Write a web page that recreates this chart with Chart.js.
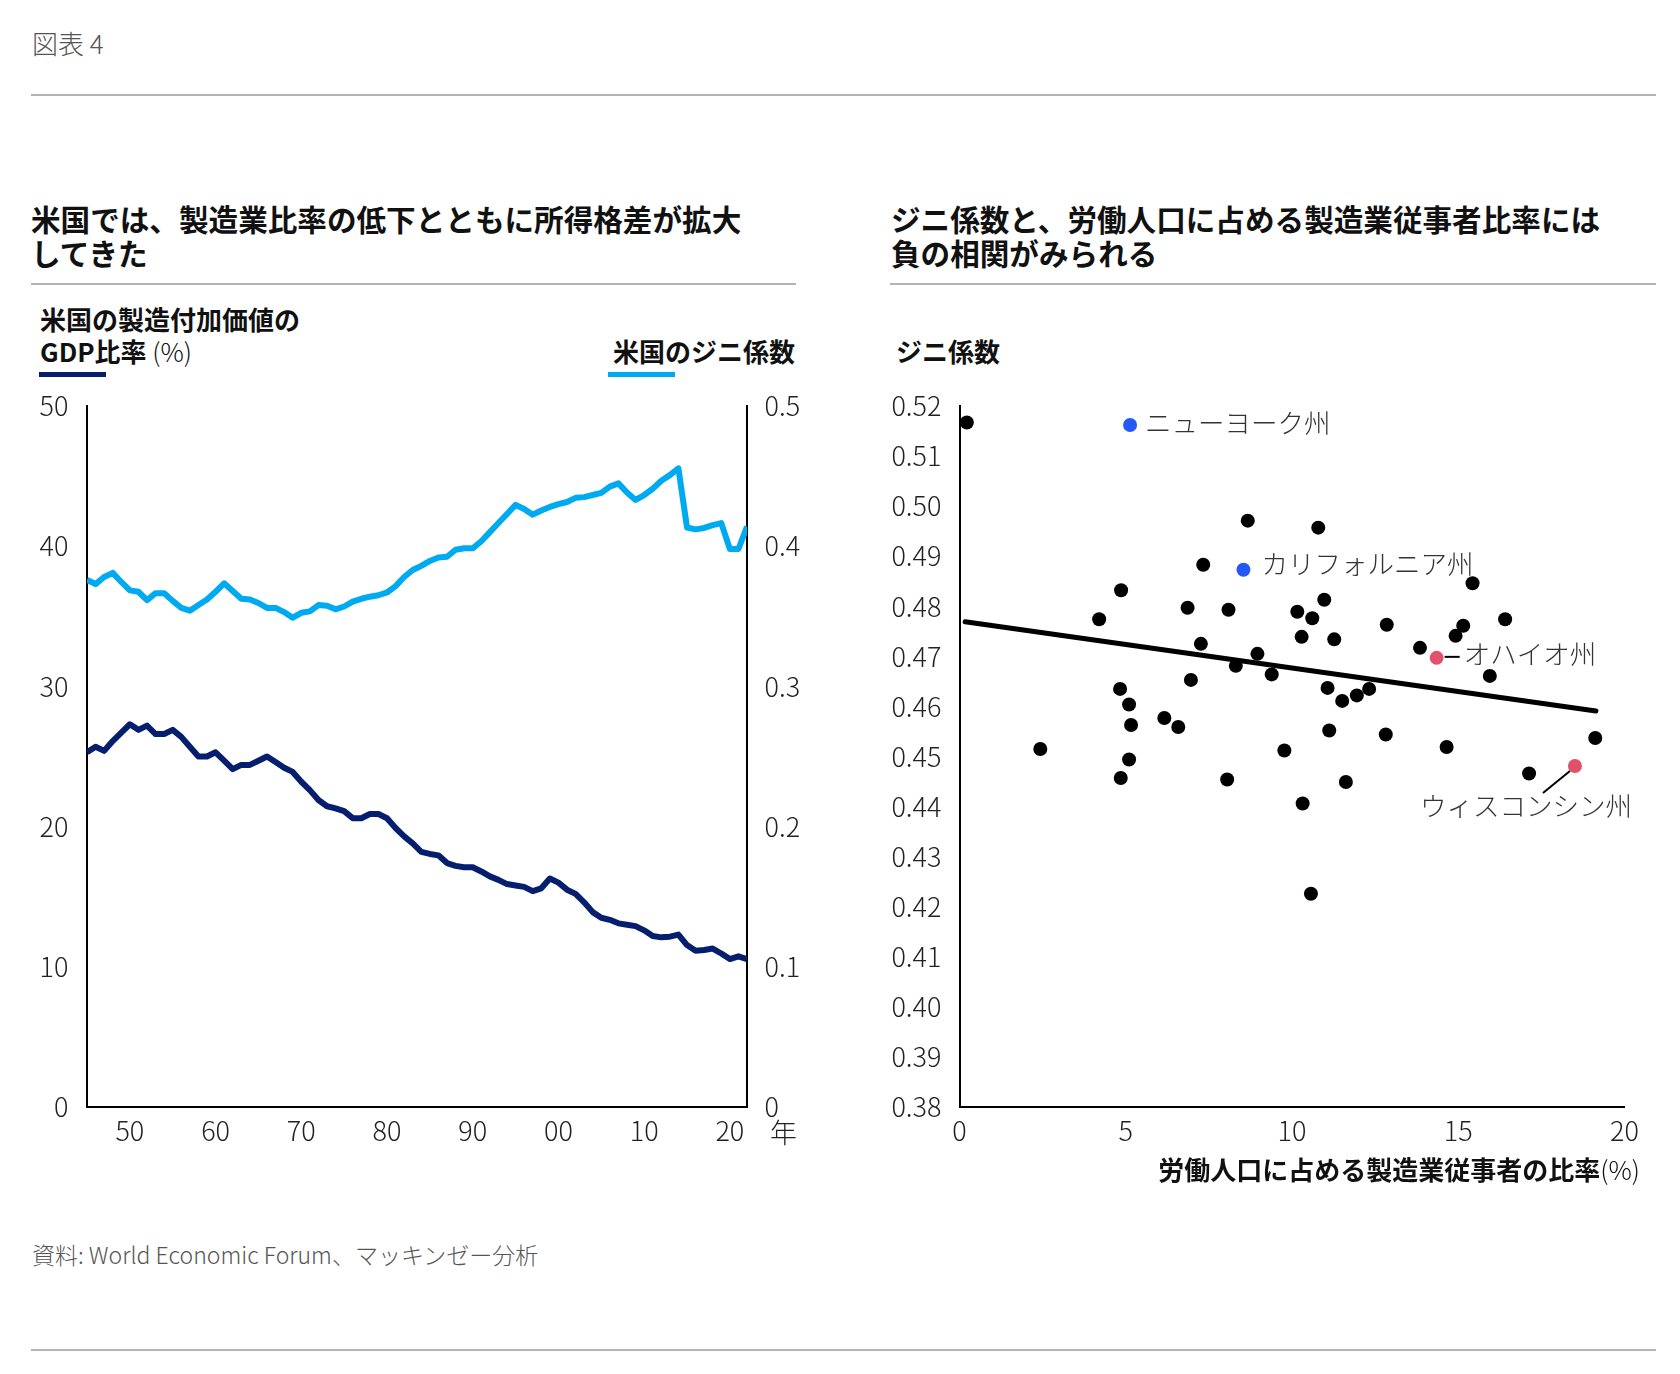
<!DOCTYPE html>
<html lang="ja">
<head>
<meta charset="utf-8">
<title>図表 4</title>
<script src="https://cdn.jsdelivr.net/npm/chart.js@4.4.1/dist/chart.umd.min.js"></script>
<style>
  html, body { margin: 0; padding: 0; background: #fff; }
  body { width: 1680px; height: 1374px; position: relative; overflow: hidden;
         font-family: "Noto Sans CJK JP", "Noto Sans", sans-serif; color: #111; }
  .t { position: absolute; white-space: nowrap; }
  .rule { position: absolute; height: 2px; background: #b4b4b4; }
  .title { font-size: 29.6px; font-weight: 700; line-height: 34px; }
  .lab { font-size: 26px; font-weight: 700; line-height: 32px; }
  .light { font-weight: 300; }
  canvas { position: absolute; }
</style>
</head>
<body>
<div class="t light" style="left:32px;top:27px;font-size:26px;line-height:32px;color:#555;">図表 4</div>
<div class="rule" style="left:31px;top:94px;width:1625px;"></div>

<div class="t title" style="left:31px;top:202px;">米国では、製造業比率の低下とともに所得格差が拡大<br>してきた</div>
<div class="t title" style="left:891px;top:202px;">ジニ係数と、労働人口に占める製造業従事者比率には<br>負の相関がみられる</div>
<div class="rule" style="left:31px;top:283px;width:765px;"></div>
<div class="rule" style="left:890px;top:283px;width:766px;"></div>

<div class="t lab" style="left:40px;top:303px;">米国の製造付加価値の<br>GDP比率<span class="light"> (%)</span></div>
<div style="position:absolute;left:39px;top:372px;width:67px;height:5px;background:#061e6e;"></div>
<div class="t lab" style="left:613px;top:335px;">米国のジニ係数</div>
<div style="position:absolute;left:608px;top:372px;width:67px;height:5px;background:#00aaf0;"></div>
<div class="t lab" style="left:896px;top:335px;">ジニ係数</div>

<canvas id="leftChart" width="840" height="800" style="left:0;top:380px;"></canvas>
<canvas id="rightChart" width="800" height="800" style="left:880px;top:380px;"></canvas>

<div class="t light" style="left:770px;top:1115px;font-size:27px;line-height:34px;color:#222;">年</div>
<div class="t lab" style="right:40px;top:1153px;">労働人口に占める製造業従事者の比率<span class="light">(%)</span></div>

<div class="t light" style="left:32px;top:1240px;font-size:23px;line-height:28px;color:#555;">資料: World Economic Forum、マッキンゼー分析</div>
<div class="rule" style="left:31px;top:1349px;width:1625px;"></div>

<script>
// ---- left chart data (1945-2022) ----
const YEARS = [1945, 1946, 1947, 1948, 1949, 1950, 1951, 1952, 1953, 1954,
  1955, 1956, 1957, 1958, 1959, 1960, 1961, 1962, 1963, 1964,
  1965, 1966, 1967, 1968, 1969, 1970, 1971, 1972, 1973, 1974,
  1975, 1976, 1977, 1978, 1979, 1980, 1981, 1982, 1983, 1984,
  1985, 1986, 1987, 1988, 1989, 1990, 1991, 1992, 1993, 1994,
  1995, 1996, 1997, 1998, 1999, 2000, 2001, 2002, 2003, 2004,
  2005, 2006, 2007, 2008, 2009, 2010, 2011, 2012, 2013, 2014,
  2015, 2016, 2017, 2018, 2019, 2020, 2021, 2022];

// 製造付加価値のGDP比率 (%)
const GDP_SHARE = [25.3, 25.7, 25.4, 26.1, 26.7, 27.3, 26.9, 27.2, 26.6, 26.6,
  26.9, 26.4, 25.7, 25.0, 25.0, 25.3, 24.7, 24.1, 24.4, 24.4,
  24.7, 25.0, 24.6, 24.2, 23.9, 23.2, 22.6, 21.9, 21.45, 21.3,
  21.1, 20.6, 20.6, 20.9, 20.9, 20.6, 19.9, 19.3, 18.8, 18.2,
  18.05, 17.95, 17.4, 17.2, 17.1, 17.1, 16.8, 16.45, 16.2, 15.9,
  15.8, 15.7, 15.4, 15.6, 16.3, 16.0, 15.5, 15.2, 14.6, 13.9,
  13.5, 13.35, 13.1, 13.0, 12.9, 12.6, 12.2, 12.1, 12.15, 12.3,
  11.55, 11.15, 11.2, 11.3, 10.95, 10.55, 10.75, 10.55];

// 米国のジニ係数
const GINI_US = [0.376, 0.373, 0.378, 0.381, 0.3745, 0.3685, 0.3675, 0.3615, 0.3665, 0.3665,
  0.361, 0.356, 0.354, 0.358, 0.362, 0.3675, 0.3735, 0.368, 0.3625, 0.362,
  0.3595, 0.356, 0.356, 0.353, 0.349, 0.3525, 0.3535, 0.358, 0.3575, 0.355,
  0.357, 0.3605, 0.3625, 0.364, 0.365, 0.367, 0.3715, 0.378, 0.383, 0.386,
  0.3895, 0.392, 0.3925, 0.3975, 0.3985, 0.3985, 0.4035, 0.41, 0.4165, 0.423,
  0.4295, 0.4265, 0.4225, 0.4255, 0.428, 0.43, 0.4315, 0.4345, 0.435, 0.4365,
  0.438, 0.4425, 0.4448, 0.4383, 0.433, 0.4365, 0.441, 0.4467, 0.4507, 0.4555,
  0.4133, 0.412, 0.413, 0.415, 0.4165, 0.398, 0.398, 0.414];

const YEAR_TICKS = [1950, 1960, 1970, 1980, 1990, 2000, 2010, 2020];
const GDP_TICKS = [0, 10, 20, 30, 40, 50];
const GINI_TICKS = [0, 0.1, 0.2, 0.3, 0.4, 0.5];

// ---- right chart data: states ----
const STATE_SHARE = [0.22, 8.67, 7.33, 4.86, 6.86, 8.09, 4.20, 7.26, 8.96, 8.31,
  9.39, 6.96, 4.83, 5.10, 6.16, 5.16, 6.58, 2.43, 9.77, 5.10,
  4.85, 8.05, 10.79, 15.43, 10.97, 10.16, 10.61, 16.41, 12.85, 15.15,
  14.92, 10.29, 11.27, 13.85, 15.95, 11.07, 12.32, 11.95, 11.51, 11.12,
  12.82, 19.12, 14.65, 17.13, 11.62, 10.32, 10.57];
const STATE_GINI = [0.5167, 0.4971, 0.4883, 0.4832, 0.4797, 0.4793, 0.4774, 0.4725, 0.4705, 0.4681,
  0.4664, 0.4653, 0.4635, 0.4604, 0.4577, 0.4563, 0.4559, 0.4515, 0.4512, 0.4494,
  0.4457, 0.4454, 0.4957, 0.4846, 0.4813, 0.4789, 0.4776, 0.4774, 0.4763, 0.4761,
  0.4741, 0.4739, 0.4734, 0.4717, 0.4661, 0.4637, 0.4635, 0.4622, 0.4611, 0.4552,
  0.4544, 0.4537, 0.4519, 0.4466, 0.4449, 0.4406, 0.4226];

const HL_NAMES = ['ニューヨーク州', 'カリフォルニア州', 'オハイオ州', 'ウィスコンシン州'];
const HL_SHARE = [5.13, 8.54, 14.35, 18.51];
const HL_GINI = [0.5162, 0.4873, 0.4697, 0.4481];

const TREND_SHARE = [0.17, 19.14];
const TREND_GINI = [0.4769, 0.4591];

const SHARE_TICKS = [0, 5, 10, 15, 20];
const STATE_GINI_TICKS = [0.38, 0.39, 0.40, 0.41, 0.42, 0.43, 0.44, 0.45, 0.46, 0.47, 0.48, 0.49, 0.50, 0.51, 0.52];

// ---- shared styles ----
const NAVY = '#061e6e';
const SKY = '#00aaf0';
const tickFont = { family: '"Noto Sans CJK JP"', size: 27, weight: '300' };
const axisBorder = { display: true, color: '#000', width: 2 };
// tick marks are not shown (grid hidden); tickLength only adds label gap
const yGrid = { display: false, drawTicks: true, tickLength: 12 };
const xGrid = { display: false, drawTicks: false };

function fixTicks(list) {
  return function (scale) { scale.ticks = list.map(v => ({ value: v })); };
}
function toXY(xs, ys) {
  return xs.map((x, i) => ({ x: x, y: ys[i] }));
}

Chart.defaults.font.family = '"Noto Sans CJK JP", sans-serif';
Chart.defaults.color = '#222';

new Chart(document.getElementById('leftChart'), {
  type: 'line',
  data: {
    datasets: [
      {
        label: '米国のジニ係数',
        data: toXY(YEARS, GINI_US),
        yAxisID: 'y2',
        borderColor: SKY,
        borderWidth: 6,
        pointRadius: 0,
        borderJoinStyle: 'round',
        tension: 0
      },
      {
        label: '米国の製造付加価値のGDP比率 (%)',
        data: toXY(YEARS, GDP_SHARE),
        yAxisID: 'y',
        borderColor: NAVY,
        borderWidth: 6,
        pointRadius: 0,
        borderJoinStyle: 'round',
        tension: 0
      }
    ]
  },
  options: {
    responsive: false,
    animation: false,
    layout: { padding: { top: 26, left: 0, right: 0, bottom: 0 } },
    plugins: { legend: { display: false }, tooltip: { enabled: false } },
    scales: {
      x: {
        type: 'linear',
        min: 1945,
        max: 2022,
        grid: xGrid,
        border: axisBorder,
        afterBuildTicks: fixTicks(YEAR_TICKS),
        afterFit: function (s) { s.height = 73; },
        ticks: {
          font: tickFont,
          padding: 8,
          maxRotation: 0,
          autoSkip: false,
          callback: v => String(v % 100).padStart(2, '0')
        }
      },
      y: {
        position: 'left',
        min: 0,
        max: 50,
        grid: yGrid,
        border: axisBorder,
        afterBuildTicks: fixTicks(GDP_TICKS),
        afterFit: function (s) { s.width = 87; },
        ticks: { font: tickFont, padding: 6.5 }
      },
      y2: {
        position: 'right',
        min: 0,
        max: 0.5,
        grid: yGrid,
        border: axisBorder,
        afterBuildTicks: fixTicks(GINI_TICKS),
        afterFit: function (s) { s.width = 93; },
        ticks: { font: tickFont, padding: 5.5, callback: v => (v === 0 ? '0' : v.toFixed(1)) }
      }
    }
  }
});

// label position around each highlighted state (pixels from the dot)
const LABEL_STYLE = [
  { dx: 15, dy: -2, align: 'left' },
  { dx: 18, dy: -6, align: 'left' },
  { dx: 27, dy: -4, align: 'left', lead: [8, -1, 23, -1] },
  { dx: -49, dy: 40, align: 'center', lead: [-5, 5, -32, 27] }
];

const stateLabels = {
  id: 'stateLabels',
  afterDatasetsDraw(chart) {
    const ctx = chart.ctx;
    const xs = chart.scales.x, ys = chart.scales.y;
    ctx.save();
    ctx.font = '300 26.5px "Noto Sans CJK JP"';
    ctx.fillStyle = '#333';
    ctx.textBaseline = 'middle';
    HL_NAMES.forEach(function (name, i) {
      const px = xs.getPixelForValue(HL_SHARE[i]);
      const py = ys.getPixelForValue(HL_GINI[i]);
      const st = LABEL_STYLE[i];
      if (st.lead) {
        ctx.beginPath();
        ctx.moveTo(px + st.lead[0], py + st.lead[1]);
        ctx.lineTo(px + st.lead[2], py + st.lead[3]);
        ctx.strokeStyle = '#000';
        ctx.lineWidth = 2;
        ctx.stroke();
      }
      ctx.textAlign = st.align;
      ctx.fillText(name, px + st.dx, py + st.dy);
    });
    ctx.restore();
  }
};

new Chart(document.getElementById('rightChart'), {
  type: 'scatter',
  data: {
    datasets: [
      {
        label: '注目州 (青)',
        data: toXY(HL_SHARE.slice(0, 2), HL_GINI.slice(0, 2)),
        backgroundColor: '#2459f5',
        borderWidth: 0,
        pointRadius: 7,
        clip: false
      },
      {
        label: '注目州 (赤)',
        data: toXY(HL_SHARE.slice(2), HL_GINI.slice(2)),
        backgroundColor: '#e2506b',
        borderWidth: 0,
        pointRadius: 7,
        clip: false
      },
      {
        label: '州',
        data: toXY(STATE_SHARE, STATE_GINI),
        backgroundColor: '#000',
        borderWidth: 0,
        pointRadius: 7,
        clip: false
      },
      {
        label: '回帰線',
        type: 'line',
        data: toXY(TREND_SHARE, TREND_GINI),
        borderColor: '#000',
        borderWidth: 5,
        borderCapStyle: 'round',
        pointRadius: 0,
        clip: false
      }
    ]
  },
  options: {
    responsive: false,
    animation: false,
    layout: { padding: { top: 26, left: 0, right: 55.5, bottom: 0 } },
    plugins: { legend: { display: false }, tooltip: { enabled: false } },
    scales: {
      x: {
        type: 'linear',
        min: 0,
        max: 20,
        grid: xGrid,
        border: axisBorder,
        afterBuildTicks: fixTicks(SHARE_TICKS),
        afterFit: function (s) { s.height = 73; },
        ticks: { font: tickFont, padding: 8, maxRotation: 0, autoSkip: false }
      },
      y: {
        min: 0.38,
        max: 0.52,
        grid: yGrid,
        border: axisBorder,
        afterBuildTicks: fixTicks(STATE_GINI_TICKS),
        afterFit: function (s) { s.width = 79.5; },
        ticks: { font: tickFont, padding: 6, autoSkip: false, callback: v => v.toFixed(2) }
      }
    }
  },
  plugins: [stateLabels]
});
</script>
</body>
</html>
